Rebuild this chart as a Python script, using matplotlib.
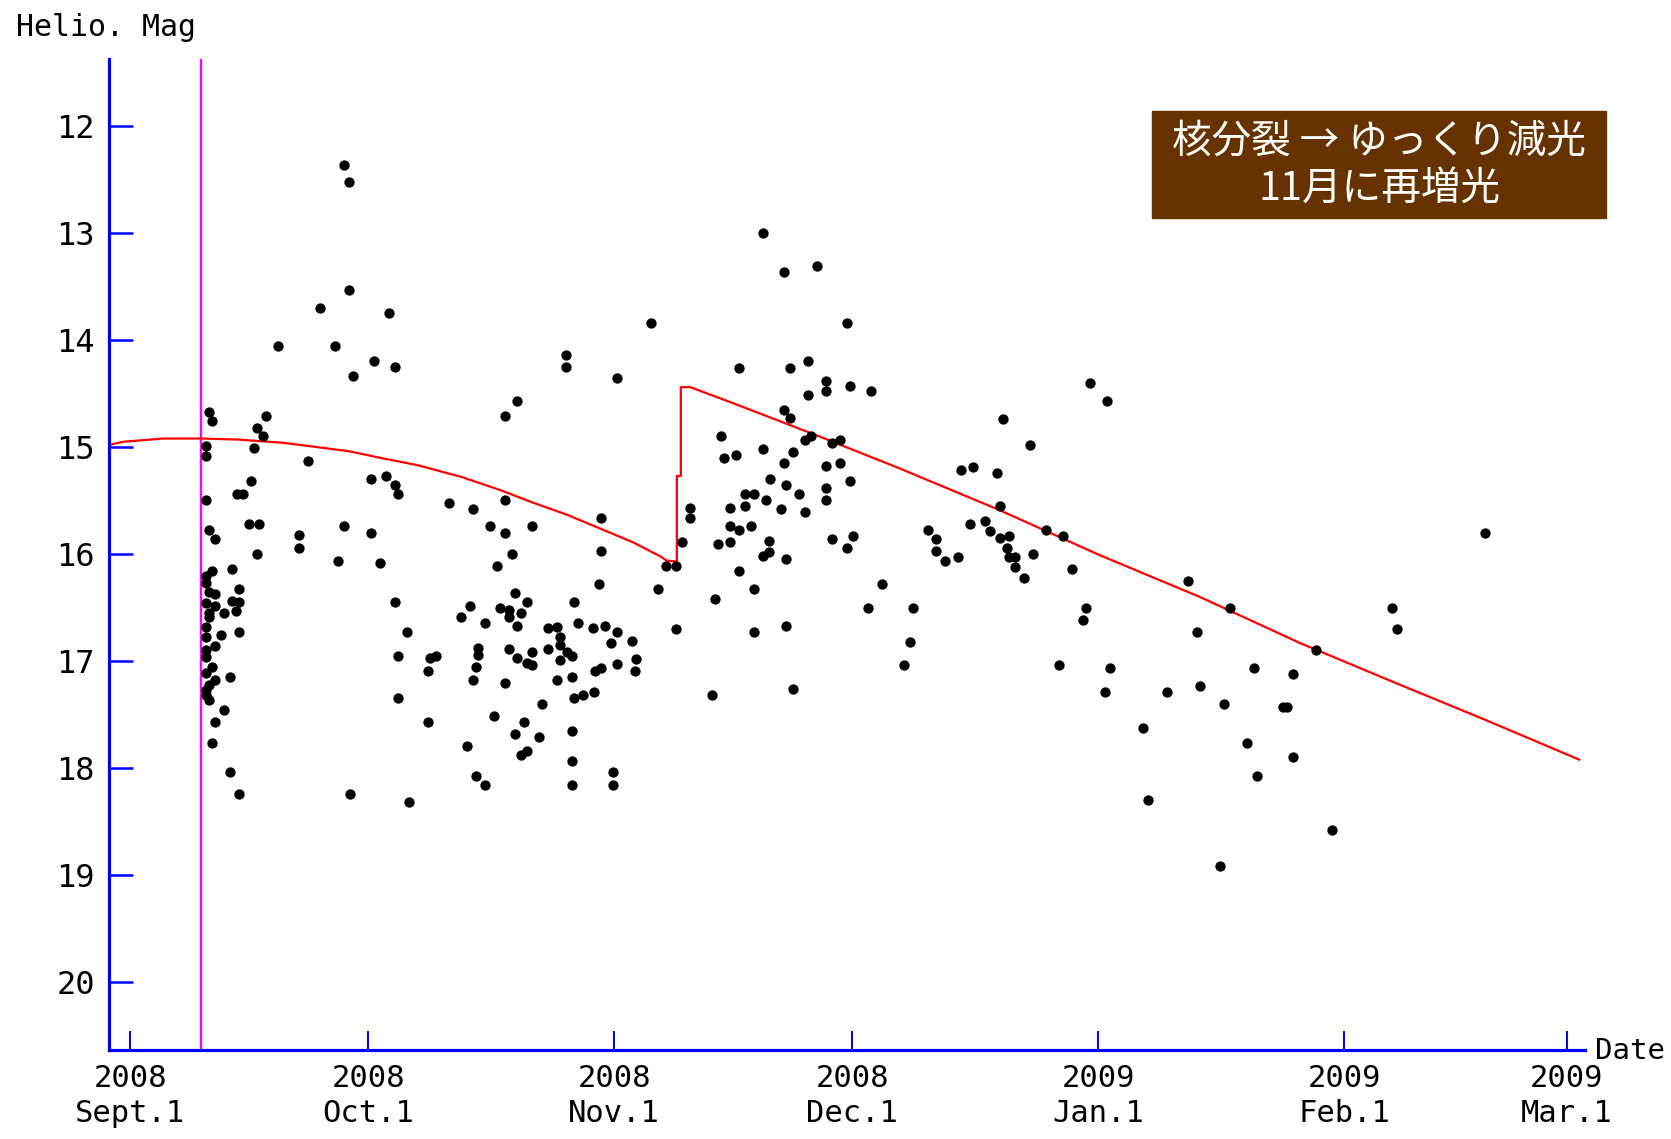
import matplotlib
matplotlib.use("Agg")
from matplotlib import pyplot as plt
from matplotlib.patches import Rectangle

# days counted from 2008 Sept. 1
obs_day = [
    26.9, 27.6, 27.6, 23.9, 32.6, 18.6, 25.8,
    30.7, 33.4, 28.1, 54.9, 54.9, 48.8, 47.3, 9.9, 10.3, 17.1, 16.0, 16.7, 15.6,
    22.4, 9.6, 9.6, 15.3, 13.5, 14.2, 30.3, 32.2, 33.4, 33.7, 40.2, 43.2, 47.3,
    9.6, 9.9, 10.7, 15.0, 16.2, 21.3, 21.3, 26.9, 30.3, 45.4, 47.3, 50.7, 16.0,
    26.2, 31.5, 48.1, 46.2, 59.4, 59.4,
    10.3, 9.6, 9.9, 10.7, 9.6, 10.7, 9.9, 9.6, 9.6, 10.7, 9.6, 10.3, 9.6, 10.7,
    9.6, 9.9, 9.6, 9.9, 9.6, 9.9, 9.6,
    12.9, 13.7, 12.9, 13.7, 13.3, 11.8, 13.7, 11.4, 12.6, 11.8, 10.7, 10.3, 12.6, 13.7,
    33.4, 34.9, 33.7, 38.6, 37.8, 37.5, 33.7, 37.5, 27.7, 35.2,
    48.5, 50.0, 42.8, 41.7, 44.7, 46.6, 47.7, 49.2, 47.7, 48.8, 56.0, 56.5, 58.3,
    52.7, 53.8, 54.2, 54.2, 52.7, 55.0, 55.7, 54.2, 47.7, 48.8, 50.0, 50.7, 50.7,
    43.9, 43.9, 43.6, 43.2, 47.3, 53.8, 55.7, 58.6, 56.0, 57.1, 58.4, 51.9, 45.8,
    49.6, 48.5, 51.5, 55.7, 42.4, 49.2, 50.0, 55.7, 43.6, 44.7, 55.7,
    59.1, 61.3, 65.7, 66.5, 67.5, 68.8, 69.5, 70.6, 70.6, 68.8, 73.3, 73.7, 74.4,
    74.8, 76.3, 75.6, 77.5, 78.6, 77.5, 75.6, 76.7, 78.2, 75.6, 74.1, 76.7, 78.6,
    78.6, 79.7, 80.1, 80.5, 80.5, 79.7, 80.6, 82.0, 82.4, 82.7, 82.7, 82.7, 83.1,
    82.4, 83.1, 83.5, 83.5, 84.3, 85.0, 85.0, 85.8, 85.4, 85.4, 86.5, 87.7, 87.7,
    87.7, 87.7, 87.7, 88.4, 89.5, 89.5, 88.4, 90.3, 90.7, 90.7, 91.1, 90.3, 93.3,
    93.0, 94.8, 82.4, 79.7, 60.9, 60.9, 59.8, 61.3, 60.6, 63.2, 63.8, 63.6, 61.3,
    59.4, 76.7,
    121.0, 110.0, 113.4, 104.7, 106.2, 109.2, 109.6, 105.8, 107.7, 108.4, 100.5,
    101.6, 101.6, 102.7, 104.3, 109.6, 110.8, 110.5, 110.8, 111.5, 111.5, 112.6,
    113.8, 115.4, 117.6, 118.7, 98.6, 98.3, 97.5, 117.1, 120.5, 120.1,
    123.1, 133.3, 138.6, 149.4, 123.5, 122.8, 130.6, 127.6, 128.3, 134.4, 134.8,
    137.8, 140.8, 142.0, 141.6, 146.5, 145.3, 145.8, 146.5, 151.4,
    170.7, 159.0, 159.7, 137.4,
]
obs_mag = [
    12.36, 12.52, 13.53, 13.70, 13.75, 14.06, 14.06,
    14.20, 14.25, 14.34, 14.14, 14.25, 14.57, 14.71, 14.67, 14.76, 14.71, 14.82, 14.90, 15.01,
    15.13, 14.99, 15.08, 15.32, 15.44, 15.44, 15.30, 15.27, 15.35, 15.44, 15.52, 15.58, 15.49,
    15.49, 15.77, 15.86, 15.72, 15.72, 15.82, 15.94, 15.74, 15.80, 15.74, 15.80, 15.74, 16.00,
    16.06, 16.08, 16.00, 16.11, 15.66, 15.97,
    16.16, 16.27, 16.35, 16.37, 16.46, 16.48, 16.59, 16.68, 16.77, 16.86, 16.96, 17.05, 17.11, 17.18,
    17.27, 17.36, 16.20, 16.55, 16.90, 17.22, 17.32,
    16.14, 16.33, 16.44, 16.45, 16.53, 16.55, 16.73, 16.76, 17.15, 17.46, 17.57, 17.76, 18.04, 18.24,
    16.45, 16.73, 16.95, 16.95, 16.97, 17.09, 17.34, 17.57, 18.24, 18.32,
    16.36, 16.45, 16.48, 16.59, 16.64, 16.50, 16.52, 16.55, 16.59, 16.67, 16.45, 16.64, 16.69,
    16.69, 16.68, 16.77, 16.85, 16.89, 16.91, 16.95, 16.99, 16.89, 16.97, 17.02, 16.91, 17.04,
    16.88, 16.94, 17.05, 17.18, 17.20, 17.18, 17.15, 17.09, 17.34, 17.32, 17.29, 17.40, 17.51,
    17.57, 17.68, 17.71, 17.65, 17.79, 17.88, 17.84, 17.93, 18.07, 18.16, 18.16,
    16.28, 14.35, 13.84, 16.33, 16.11, 16.11, 15.89, 15.57, 15.66, 16.70, 17.32, 16.42, 14.90,
    15.10, 15.07, 15.57, 15.44, 15.44, 15.55, 15.74, 15.77, 15.74, 15.89, 15.91, 16.16, 16.33,
    16.73, 15.02, 15.49, 15.88, 15.98, 16.02, 15.30, 15.58, 15.15, 15.35, 16.05, 16.67, 14.26,
    14.65, 14.73, 15.05, 17.26, 15.44, 15.61, 14.93, 14.90, 14.20, 14.51, 13.31, 14.38, 14.48,
    15.18, 15.38, 15.49, 14.96, 14.93, 15.15, 15.86, 13.84, 14.43, 15.32, 15.83, 15.94, 14.48,
    16.50, 16.28, 13.36, 13.00, 18.04, 18.16, 16.67, 16.73, 16.83, 16.81, 16.98, 17.09, 17.03,
    17.06, 14.26,
    14.40, 14.74, 14.98, 15.21, 15.19, 15.24, 15.55, 15.72, 15.69, 15.78, 15.77,
    15.86, 15.97, 16.06, 16.03, 15.85, 15.83, 15.94, 16.03, 16.03, 16.12, 16.22,
    16.00, 15.77, 15.83, 16.14, 16.50, 16.82, 17.04, 17.04, 16.50, 16.62,
    14.57, 16.25, 16.50, 16.90, 17.06, 17.29, 17.29, 17.62, 18.30, 16.73, 17.23,
    17.40, 17.76, 18.07, 17.06, 17.12, 17.43, 17.43, 17.90, 18.58,
    15.80, 16.50, 16.70, 18.91,
]

# predicted light curve
model_day = [-2.7, -0.8, 4.2, 9.0, 13.7, 19.3, 22.5, 27.7, 31.5, 36.3, 41.8, 46.6,
             50.8, 55.0, 59.2, 63.4, 66.8, 67.6, 68.9, 68.9, 69.4, 69.4, 70.6,
             76.0, 86.5, 97.0, 109.6, 122.2, 134.8, 147.4, 160.0, 170.5, 182.6]
model_mag = [14.98, 14.95, 14.92, 14.92, 14.93, 14.96, 14.99, 15.04, 15.10, 15.17, 15.28, 15.40,
             15.52, 15.63, 15.76, 15.89, 16.02, 16.06, 16.07, 15.27, 15.27, 14.44, 14.44,
             14.59, 14.89, 15.20, 15.59, 16.01, 16.40, 16.83, 17.22, 17.54, 17.92]

event_day = 9.0

tick_days = [0, 30, 61, 91, 122, 153, 181]
tick_labels = ["2008\nSept.1", "2008\nOct.1", "2008\nNov.1", "2008\nDec.1",
               "2009\nJan.1", "2009\nFeb.1", "2009\nMar.1"]
mag_ticks = [12, 13, 14, 15, 16, 17, 18, 19, 20]

MONO = "DejaVu Sans Mono"
BLUE = "#0000ff"


def main():
    fig = plt.figure(figsize=(16.71, 11.39), dpi=100)
    ax = fig.add_axes([0.0651, 0.0784, 0.8833, 0.8702])

    ax.axvline(event_day, color="#ff00ff", linewidth=1.7, zorder=1)
    ax.scatter(obs_day, obs_mag, s=55, color="black", marker="o", linewidths=0, zorder=3)
    ax.plot(model_day, model_mag, color="red", linewidth=1.6, zorder=2)

    ax.set_xlim(-2.68, 183.3)
    ax.set_ylim(20.63, 11.37)

    for side in ("top", "right"):
        ax.spines[side].set_visible(False)
    for side in ("left", "bottom"):
        ax.spines[side].set_color(BLUE)
        ax.spines[side].set_linewidth(2.3)

    ax.set_yticks(mag_ticks)
    ax.set_yticklabels([str(m) for m in mag_ticks], fontfamily=MONO, fontsize=23)
    ax.tick_params(axis="y", direction="in", length=17, width=1.8, color=BLUE, pad=10)

    ax.set_xticks(tick_days)
    ax.set_xticklabels(tick_labels, fontfamily=MONO, fontsize=22, linespacing=1.3)
    ax.tick_params(axis="x", direction="in", length=14, width=1.4, color=BLUE, pad=10)

    fig.text(0.0096, 0.9757, "Helio. Mag", fontfamily=MONO, fontsize=21.5, va="center", ha="left")
    fig.text(0.9547, 0.0775, "Date", fontfamily=MONO, fontsize=21, va="center", ha="left")

    fig.patches.append(Rectangle((0.6894, 0.8082), 0.2717, 0.0945,
                                 transform=fig.transFigure, color="#663300", zorder=5))
    cjk = ["Noto Sans CJK JP", "DejaVu Sans"]
    fig.text(0.8253, 0.8756, "核分裂 → ゆっくり減光", family=cjk, fontsize=28.5,
             color="white", ha="center", va="center", zorder=6)
    fig.text(0.8253, 0.8344, "11月に再増光", family=cjk, fontsize=28.5,
             color="white", ha="center", va="center", zorder=6)

    fig.savefig("out.png", dpi=100, facecolor="white")


if __name__ == '__main__':
    main()
